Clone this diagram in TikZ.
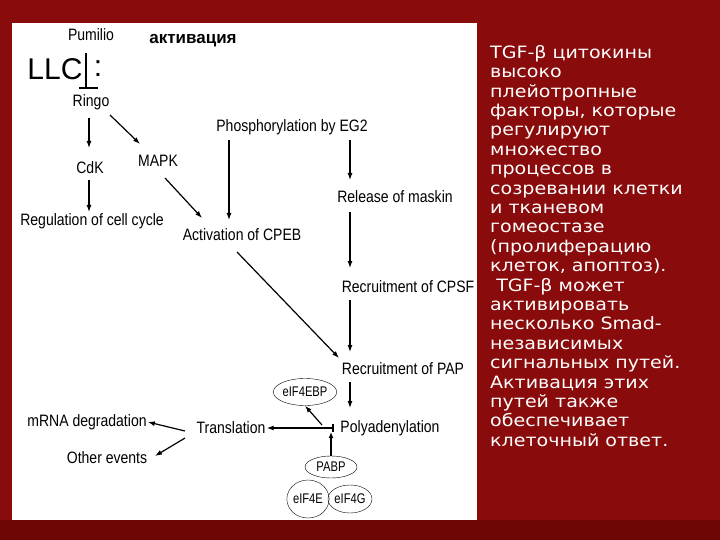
\documentclass[tikz,border=0pt]{standalone}
\usepackage{fontspec}
\setmainfont{Liberation Sans}
\newfontfamily\rtf[FakeStretch=1.12]{DejaVu Sans}
\usetikzlibrary{arrows.meta,shapes.geometric}
\definecolor{bgred}{HTML}{8A0B0B}
\definecolor{bgdark}{HTML}{6E0606}
\begin{document}
\begin{tikzpicture}[x=1pt,y=-1pt,
  lab/.style={inner sep=1pt,font=\fontsize{16.5}{17}\selectfont\addfontfeature{FakeStretch=0.85}},
  ell/.style={draw,ellipse,inner sep=0pt,font=\fontsize{14}{14}\selectfont\addfontfeature{FakeStretch=0.8}},
  ar/.style={-{Latex[length=7pt,width=5pt]},line width=1.2pt},
  thk/.style={line width=2.2pt}]
\fill[bgred] (0,0) rectangle (720,540);
\fill[bgdark] (0,520) rectangle (720,540);
\fill[white] (12,23) rectangle (477,520);
\useasboundingbox (0,0) rectangle (720,540);
\node[lab] (pum) at (91,35) {Pumilio};
\node[inner sep=0pt,font=\fontsize{17}{17}\selectfont\bfseries] (act) at (193,41) {активация};
\node[inner sep=0pt,font=\fontsize{30}{30}\selectfont] (llc) at (55,69) {LLC};
\node[inner sep=0pt,font=\fontsize{30}{30}\selectfont] (col) at (98,69) {:};
\coordinate (bt) at (86,53); \coordinate (bb) at (86,88);
\coordinate (bl) at (79,88); \coordinate (br) at (98,88);
\draw[line width=1.3pt] (bt) -- (bb);
\draw[line width=1.6pt] (bl) -- (br);
\node[lab] (ringo) at (91,102) {Ringo};
\node[lab] (cdk) at (90,168) {CdK};
\node[lab] (mapk) at (158,161) {MAPK};
\node[lab] (reg) at (92,221) {Regulation of cell cycle};
\node[lab] (phos) at (292,127) {Phosphorylation by EG2};
\node[lab] (rel) at (395,197) {Release of maskin};
\node[lab] (cpeb) at (242,235) {Activation of CPEB};
\node[lab] (cpsf) at (408,287) {Recruitment of CPSF};
\node[lab] (pap) at (403,369) {Recruitment of PAP};
\node[lab] (trans) at (231,428) {Translation};
\node[lab] (poly) at (390,428) {Polyadenylation};
\node[lab] (mrna) at (87,422) {mRNA degradation};
\node[lab] (oth) at (107,458) {Other events};
\node[ell,minimum width=50pt,minimum height=27pt] (ebp) at (305,392) {eIF4EBP};
\node[ell,minimum width=52pt,minimum height=22pt] (pabp) at (331,467) {PABP};
\node[ell,minimum width=36pt,minimum height=38pt] (e4e) at (308,499) {eIF4E};
\node[ell,minimum width=40pt,minimum height=28pt] (e4g) at (350,499) {eIF4G};
\draw[ar] (89,118) -- (89,148);
\draw[ar] (110,115) -- (140,144);
\draw[ar] (89,180) -- (89,212);
\draw[ar] (165,178) -- (202,218);
\draw[ar] (229,140) -- (229,220);
\draw[ar] (350,140) -- (350,180);
\draw[ar] (350,212) -- (350,268);
\draw[ar] (237,252) -- (339,358);
\draw[ar] (350,300) -- (350,352);
\draw[ar] (350,382) -- (350,408);
\coordinate (j) at (333,428);
\draw[thk,-{Latex[length=7pt,width=5pt]}] (j) -- (trans.east);
\draw[line width=1.6pt] (333,424) -- (333,432);
\draw[ar] (322,425) -- (ebp.south);
\draw[thk,-{Latex[length=6pt,width=5pt]}] (pabp.north) -- (331,432);
\draw[ar] (185,431) -- (mrna.east);
\draw[ar] (185,438) -- (155,456);
\node[text=white,anchor=north west,align=left,inner sep=0pt,
  font=\rtf\fontsize{17}{19.4}\selectfont] (txt) at (490,45) {TGF-β цитокины\\высоко\\плейотропные\\факторы, которые\\регулируют\\множество\\процессов в\\созревании клетки\\и тканевом\\гомеостазе\\(пролиферацию\\клеток, апоптоз).\\\ TGF-β может\\активировать\\несколько Smad-\\независимых\\сигнальных путей.\\Активация этих\\путей также\\обеспечивает\\клеточный ответ.};
\end{tikzpicture}
\end{document}
